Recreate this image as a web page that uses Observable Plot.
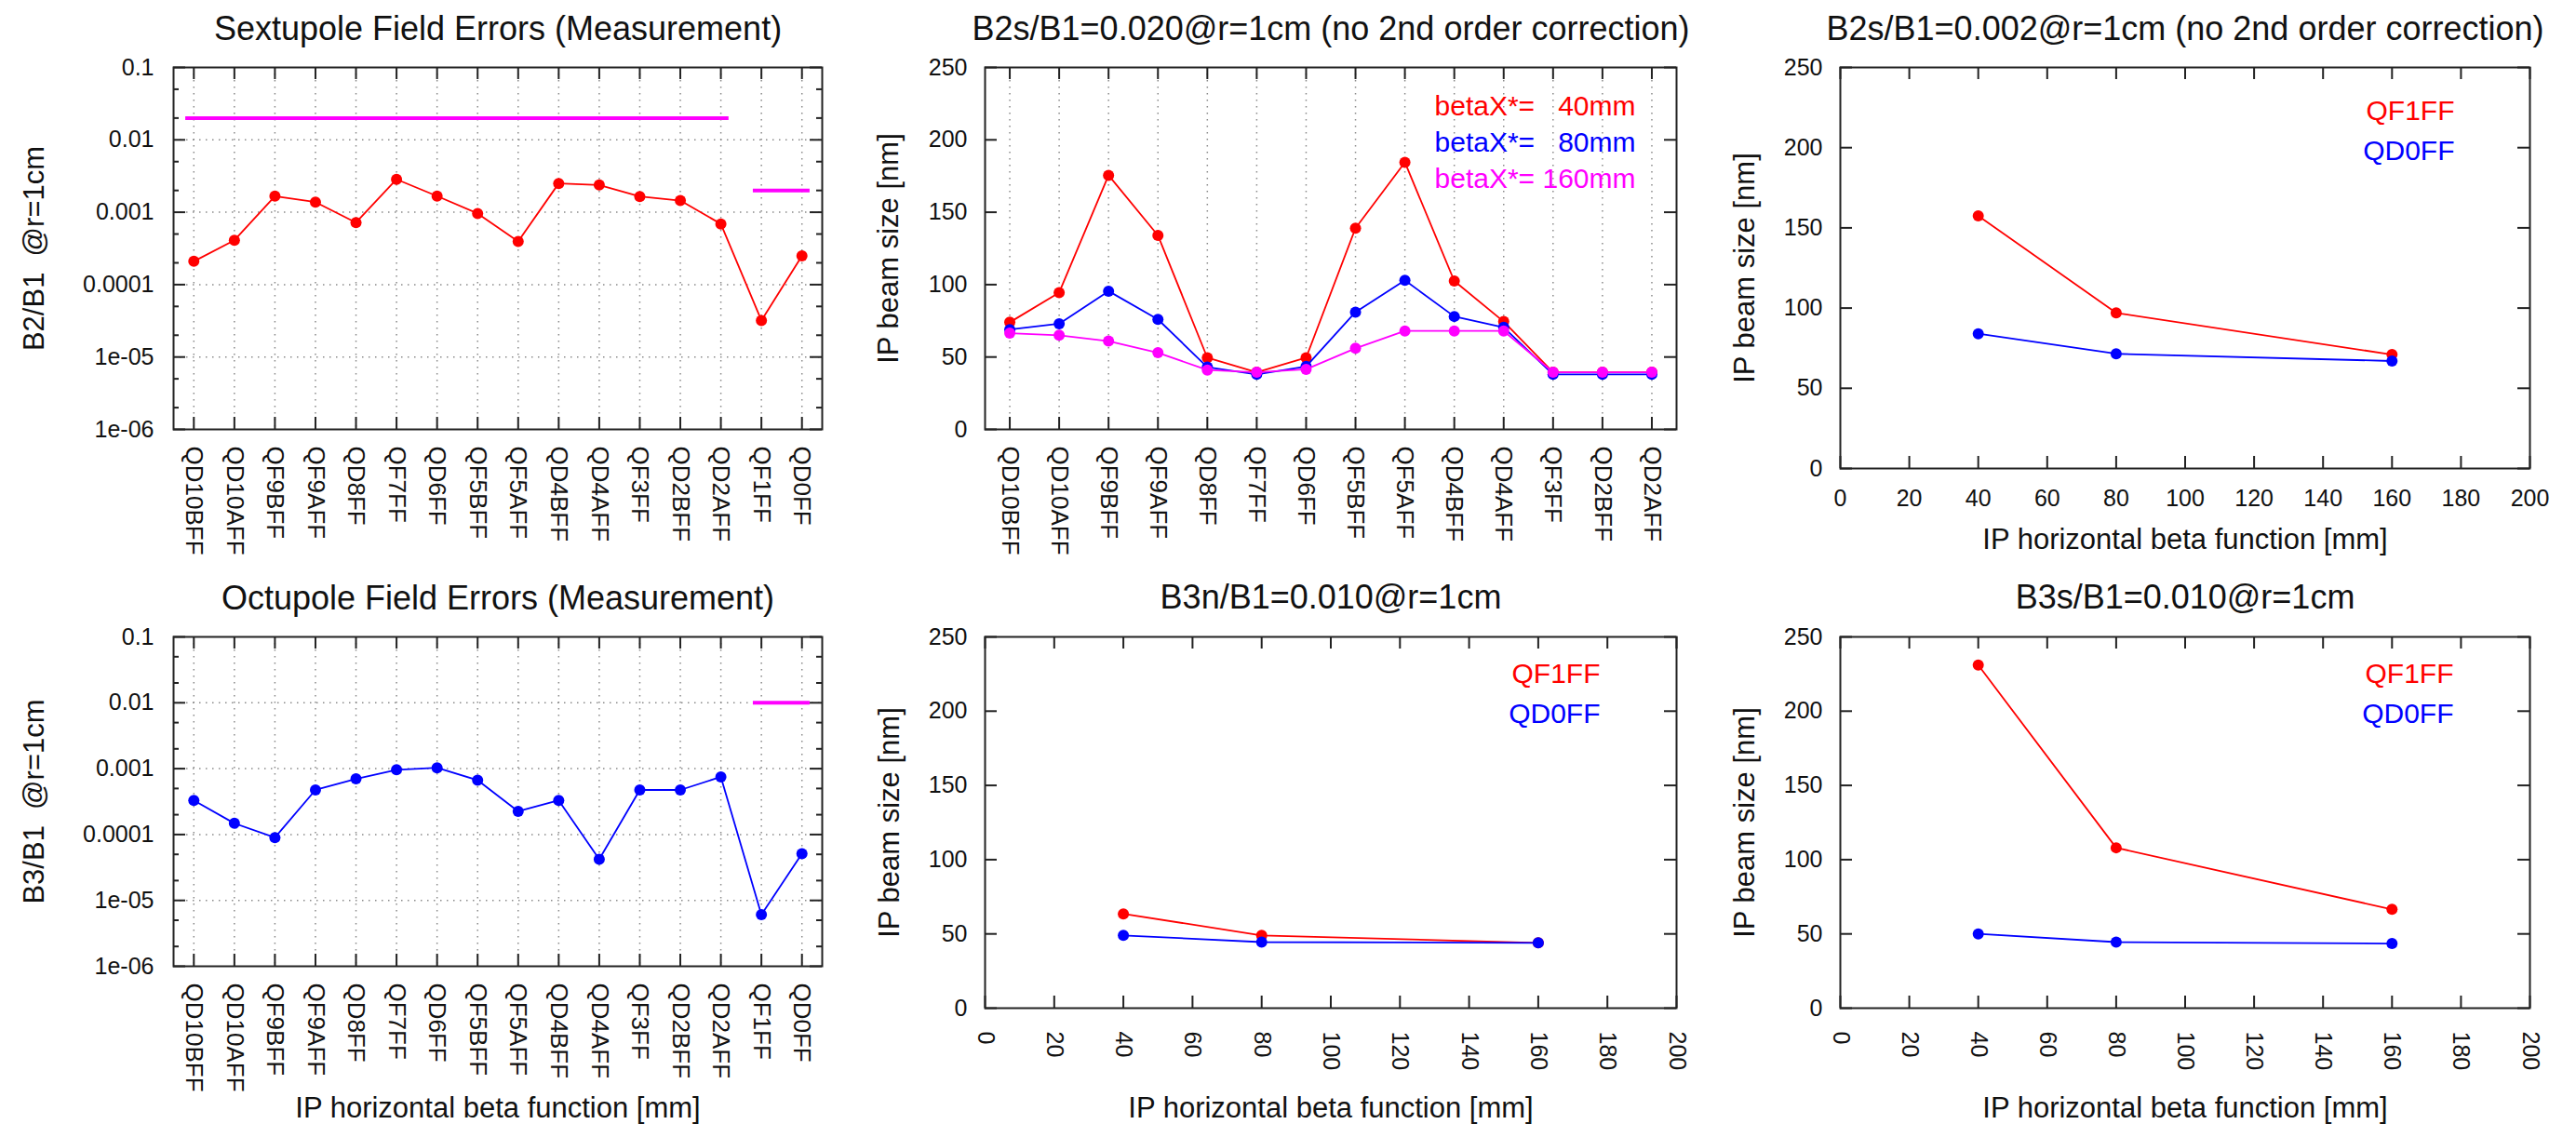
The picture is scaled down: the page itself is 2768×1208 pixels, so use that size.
<!DOCTYPE html>
<html><head><meta charset="utf-8">
<script src="https://cdn.jsdelivr.net/npm/d3@7"></script>
<script src="https://cdn.jsdelivr.net/npm/@observablehq/plot@0.6"></script>
<style>
html,body{margin:0;padding:0;background:#fff;}
#root{position:relative;width:2768px;height:1208px;overflow:hidden;background:#fff;}
#root svg{position:absolute;overflow:visible;}
#root text{white-space:pre;}
</style></head><body><div id="root"></div>
<script>
// ---------- data ----------
const magnets16 = ["QD10BFF","QD10AFF","QF9BFF","QF9AFF","QD8FF","QF7FF","QD6FF","QF5BFF","QF5AFF","QD4BFF","QD4AFF","QF3FF","QD2BFF","QD2AFF","QF1FF","QD0FF"];
const sextupoleB2 = [2.1e-4,4.1e-4,1.67e-3,1.38e-3,7.2e-4,2.85e-3,1.67e-3,9.6e-4,3.95e-4,2.5e-3,2.38e-3,1.65e-3,1.45e-3,6.9e-4,3.2e-5,2.5e-4];
const octupoleB3 = [3.3e-4,1.48e-4,9.0e-5,4.75e-4,7.0e-4,9.6e-4,1.03e-3,6.7e-4,2.25e-4,3.3e-4,4.2e-5,4.75e-4,4.75e-4,7.5e-4,6.1e-6,5.1e-5];
const sextTolerance = [{from:"QD10BFF",to:"QD2AFF",value:0.02},{from:"QF1FF",to:"QD0FF",value:0.002}];
const octTolerance = [{from:"QF1FF",to:"QD0FF",value:0.01}];

const magnets14 = ["QD10BFF","QD10AFF","QF9BFF","QF9AFF","QD8FF","QF7FF","QD6FF","QF5BFF","QF5AFF","QD4BFF","QD4AFF","QF3FF","QD2BFF","QD2AFF"];
const beam40 = [74,94.5,175.5,134,49.5,39.5,49.5,139,184.5,102.5,74.5,39.5,39.5,39.5];
const beam80 = [69,73,95.5,76,43,38,43.5,81,103,78,70.5,38,38,38];
const beam160 = [66.5,65,61,53,41,39.5,41.5,56,68,68,68,39.5,39.5,39.5];
const beamLegend = ["betaX*=   40mm","betaX*=   80mm","betaX*= 160mm"];

const betaX = [40,80,160];
const b2s002QF1 = [157.5,97,71];
const b2s002QD0 = [84,71.5,67];
const b3nQF1 = [63.5,49,44];
const b3nQD0 = [49,44.5,44];
const b3sQF1 = [231,108,66.5];
const b3sQD0 = [50,44.5,43.5];
const magnetLegend = ["QF1FF","QD0FF"];

const logTicks = [0.1,0.01,0.001,0.0001,1e-5,1e-6];
const logTickLabels = ["0.1","0.01","0.001","0.0001","1e-05","1e-06"];
const beamTicks = [0,50,100,150,200,250];
const betaTicks = [0,20,40,60,80,100,120,140,160,180,200];

const titles = ["Sextupole Field Errors (Measurement)","B2s/B1=0.020@r=1cm (no 2nd order correction)","B2s/B1=0.002@r=1cm (no 2nd order correction)","Octupole Field Errors (Measurement)","B3n/B1=0.010@r=1cm","B3s/B1=0.010@r=1cm"];
const yLabels = ["B2/B1  @r=1cm","IP beam size [nm]","B3/B1  @r=1cm"];
const xLabel = "IP horizontal beta function [mm]";

// ---------- styling ----------
const RED="#ff0000", BLUE="#0000ff", MAG="#ff00ff", AX="#222", TXT="#111", GRID="#8a8a8a";
const FONT='"Liberation Sans", Arial, Helvetica, sans-serif';
const DOT_R = 6;
const root = document.getElementById("root");

function ticksMarks(fw, fh, xT, yT, yMinor) {
  const m = [];
  const L = 13, Lm = 6;
  if (xT) {
    m.push(Plot.tickX(xT, {x: d => d, insetTop: fh - L, stroke: AX, strokeWidth: 2}));
    m.push(Plot.tickX(xT, {x: d => d, insetBottom: fh - L, stroke: AX, strokeWidth: 2}));
  }
  if (yT) {
    m.push(Plot.tickY(yT, {y: d => d, insetRight: fw - L, stroke: AX, strokeWidth: 2}));
    m.push(Plot.tickY(yT, {y: d => d, insetLeft: fw - L, stroke: AX, strokeWidth: 2}));
  }
  if (yMinor) {
    m.push(Plot.tickY(yMinor, {y: d => d, insetRight: fw - Lm, stroke: AX, strokeWidth: 2}));
    m.push(Plot.tickY(yMinor, {y: d => d, insetLeft: fw - Lm, stroke: AX, strokeWidth: 2}));
  }
  return m;
}

function panel({left, top, width, height, margin, x, y, marks, title, titleDy, yLabel, yLabelDx, xTitle, xTitleDy}) {
  const [mt, mr, mb, ml] = margin;
  const all = [...marks,
    Plot.frame({stroke: AX, strokeWidth: 2}),
    Plot.text([title], {text: d => d, frameAnchor: "top", textAnchor: "middle", dy: titleDy, lineAnchor: "middle", fontSize: 36, fill: TXT}),
    Plot.text([yLabel], {text: d => d, frameAnchor: "left", textAnchor: "middle", rotate: -90, dx: yLabelDx, lineAnchor: "middle", fontSize: 31, fill: TXT})
  ];
  if (xTitle) all.push(Plot.text([xTitle], {text: d => d, frameAnchor: "bottom", textAnchor: "middle", dy: xTitleDy, lineAnchor: "middle", fontSize: 31, fill: TXT}));
  const svg = Plot.plot({
    width, height, marginTop: mt, marginRight: mr, marginBottom: mb, marginLeft: ml,
    x: {...x, axis: null}, y: {...y, axis: null},
    style: {fontFamily: FONT, fontSize: "25px", color: TXT, background: "transparent", overflow: "visible"},
    marks: all
  });
  svg.style.left = left + "px";
  svg.style.top = top + "px";
  root.append(svg);
}

// ---------- log-scale field error panels ----------
function fieldPanel({top, height, margin, values, color, tolerance, title, yLabel, xTitle, xTitleDy}) {
  const fw = 930 - margin[1] - margin[3], fh = height - margin[0] - margin[2];
  const idx = magnets16.map((d, i) => i + 1);
  const rows = magnets16.map((m, i) => ({i: i + 1, m, v: values[i]}));
  const minor = logTicks.slice(1).flatMap(d => [2 * d, 5 * d]);
  panel({
    left: 0, top, width: 930, height, margin,
    x: {type: "linear", domain: [0.5, 16.5]},
    y: {type: "log", domain: [1e-6, 0.1]},
    title, titleDy: -41, yLabel, yLabelDx: -149, xTitle, xTitleDy,
    marks: [
      Plot.ruleX(idx, {x: d => d, stroke: GRID, strokeWidth: 1.5, strokeDasharray: "1.5,5.5"}),
      Plot.ruleY(logTicks.slice(1, -1), {y: d => d, stroke: GRID, strokeWidth: 1.5, strokeDasharray: "1.5,5.5"}),
      ...ticksMarks(fw, fh, idx, logTicks, minor),
      Plot.ruleY(tolerance, {y: "value", x1: d => magnets16.indexOf(d.from) + 1 - 0.2, x2: d => magnets16.indexOf(d.to) + 1 + 0.2, stroke: MAG, strokeWidth: 4}),
      Plot.line(rows, {x: "i", y: "v", stroke: color, strokeWidth: 1.8}),
      Plot.dot(rows, {x: "i", y: "v", r: DOT_R, fill: color, stroke: null}),
      Plot.text(logTicks, {y: d => d, text: (d, i) => logTickLabels[i], frameAnchor: "left", textAnchor: "end", dx: -21, lineAnchor: "middle", fontSize: 25, fill: TXT}),
      Plot.text(rows, {x: "i", text: "m", frameAnchor: "bottom", rotate: 90, textAnchor: "start", lineAnchor: "middle", dy: 18, fontSize: 26, fill: TXT, ariaLabel: "category-labels"})
    ]
  });
}

fieldPanel({top: 0, height: 610, margin: [72, 47, 149, 186], values: sextupoleB2, color: RED, tolerance: sextTolerance, title: titles[0], yLabel: yLabels[0]});
fieldPanel({top: 610, height: 598, margin: [74, 47, 170, 186], values: octupoleB3, color: BLUE, tolerance: octTolerance, title: titles[3], yLabel: yLabels[2], xTitle: xLabel, xTitleDy: 153});

// ---------- beam size vs magnet (14 magnets) ----------
{
  const margin = [72, 39, 149, 128];
  const fw = 910 - margin[1] - margin[3], fh = 610 - margin[0] - margin[2];
  const idx = magnets14.map((d, i) => i + 1);
  const series = [[beam40, RED], [beam80, BLUE], [beam160, MAG]];
  const marks = [
    Plot.ruleX(idx, {x: d => d, stroke: GRID, strokeWidth: 1.5, strokeDasharray: "1.5,5.5"}),
    ...ticksMarks(fw, fh, idx, beamTicks)
  ];
  for (const [vals, c] of series) {
    const rows = vals.map((v, i) => ({i: i + 1, v}));
    marks.push(Plot.line(rows, {x: "i", y: "v", stroke: c, strokeWidth: 1.8}));
    marks.push(Plot.dot(rows, {x: "i", y: "v", r: DOT_R, fill: c, stroke: null}));
  }
  marks.push(Plot.text(beamTicks, {y: d => d, text: d => String(d), frameAnchor: "left", textAnchor: "end", dx: -19, lineAnchor: "middle", fontSize: 25, fill: TXT}));
  marks.push(Plot.text(magnets14, {x: (d, i) => i + 1, text: d => d, frameAnchor: "bottom", rotate: 90, textAnchor: "start", lineAnchor: "middle", dy: 18, fontSize: 26, fill: TXT, ariaLabel: "category-labels"}));
  beamLegend.forEach((t, k) => marks.push(Plot.text([t], {text: d => d, frameAnchor: "top-right", textAnchor: "end", lineAnchor: "middle", dx: -44, dy: 42 + 39 * k, fontSize: 30, fill: series[k][1]})));
  panel({left: 930, top: 0, width: 910, height: 610, margin,
    x: {type: "linear", domain: [0.5, 14.5]}, y: {type: "linear", domain: [0, 250]},
    title: titles[1], titleDy: -41, yLabel: yLabels[1], yLabelDx: -103.5, marks});
}

// ---------- beam size vs beta panels ----------
function betaPanel({left, top, width, height, margin, qf1, qd0, title, titleDy, rotated, tickDy, xTitleDy, legendDx, legendDy}) {
  const fw = width - margin[1] - margin[3], fh = height - margin[0] - margin[2];
  const marks = [...ticksMarks(fw, fh, betaTicks, beamTicks)];
  for (const [vals, c] of [[qf1, RED], [qd0, BLUE]]) {
    const rows = vals.map((v, i) => ({b: betaX[i], v}));
    marks.push(Plot.line(rows, {x: "b", y: "v", stroke: c, strokeWidth: 1.8}));
    marks.push(Plot.dot(rows, {x: "b", y: "v", r: DOT_R, fill: c, stroke: null}));
  }
  marks.push(Plot.text(beamTicks, {y: d => d, text: d => String(d), frameAnchor: "left", textAnchor: "end", dx: -19, lineAnchor: "middle", fontSize: 25, fill: TXT}));
  if (rotated) {
    marks.push(Plot.text(betaTicks, {x: d => d, text: d => String(d), frameAnchor: "bottom", rotate: 90, textAnchor: "start", lineAnchor: "middle", dy: tickDy, fontSize: 25, fill: TXT}));
  } else {
    marks.push(Plot.text(betaTicks, {x: d => d, text: d => String(d), frameAnchor: "bottom", textAnchor: "middle", lineAnchor: "middle", dy: tickDy, fontSize: 25, fill: TXT}));
  }
  magnetLegend.forEach((t, k) => marks.push(Plot.text([t], {text: d => d, frameAnchor: "top-right", textAnchor: "end", lineAnchor: "middle", dx: legendDx, dy: legendDy + 43 * k, fontSize: 30, fill: k === 0 ? RED : BLUE})));
  panel({left, top, width, height, margin,
    x: {type: "linear", domain: [0, 200]}, y: {type: "linear", domain: [0, 250]},
    title, titleDy, yLabel: yLabels[1], yLabelDx: -102.5, xTitle: xLabel, xTitleDy, marks});
}

betaPanel({left: 1840, top: 0, width: 928, height: 610, margin: [72, 50, 107, 137], qf1: b2s002QF1, qd0: b2s002QD0, title: titles[2], titleDy: -41, rotated: false, tickDy: 32, xTitleDy: 77, legendDx: -81, legendDy: 47});
betaPanel({left: 930, top: 610, width: 910, height: 598, margin: [74, 39, 125, 128], qf1: b3nQF1, qd0: b3nQD0, title: titles[4], titleDy: -42, rotated: true, tickDy: 25, xTitleDy: 108, legendDx: -82, legendDy: 40});
betaPanel({left: 1840, top: 610, width: 928, height: 598, margin: [74, 50, 125, 137], qf1: b3sQF1, qd0: b3sQD0, title: titles[5], titleDy: -42, rotated: true, tickDy: 25, xTitleDy: 108, legendDx: -82, legendDy: 40});

// gnuplot spaces its rotated magnet names widely: stretch them to the reference length (~123px for "QD10BFF")
{
  const labels = Array.from(root.querySelectorAll('g[aria-label="category-labels"] text'));
  labels.forEach(t => t.style.letterSpacing = "0px");
  const ref = labels.find(t => t.textContent === "QD10BFF");
  if (ref) {
    const len = ref.getComputedTextLength();
    const ls = Math.max(0, (123 - len) / 7);
    labels.forEach(t => t.style.letterSpacing = ls + "px");
  }
}
</script>
</body></html>
